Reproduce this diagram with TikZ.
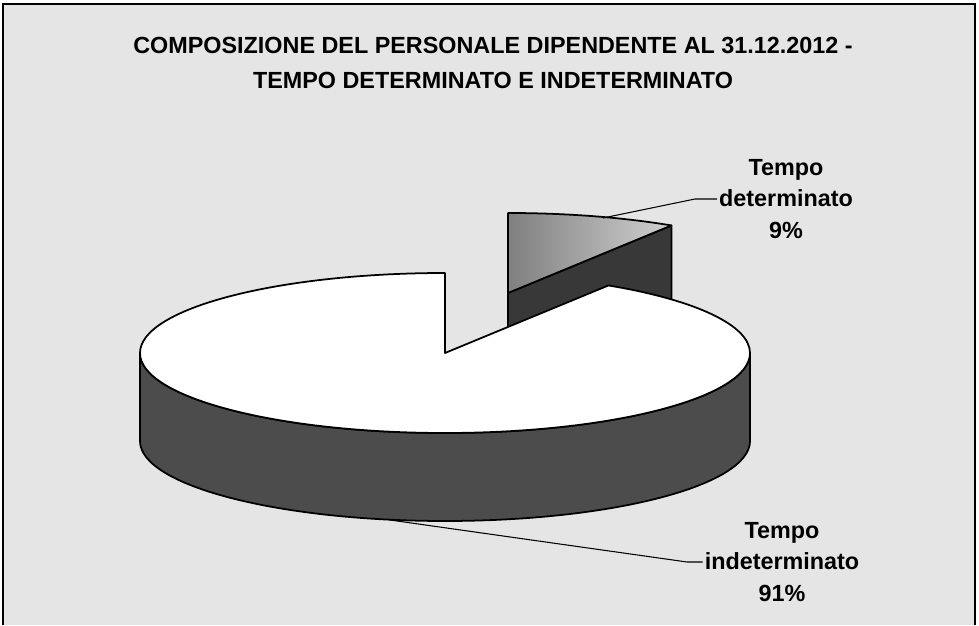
\documentclass[tikz,border=0pt]{standalone}
\usepackage{fontspec}
\setmainfont{Liberation Sans}
\begin{document}
\begin{tikzpicture}[x=0.02cm, y=0.02cm,
	every node/.style={font=\bfseries\fontsize{13.3}{18}\selectfont, align=center, inner sep=1pt},
	rim/.style={draw=black, line width=1pt, line join=round},
	leader/.style={draw=black, line width=0.6pt}]
	\useasboundingbox (0,0) rectangle (979,625);
	\fill[gray!20] (3,0) rectangle (975,621);
	\draw[line width=0.8pt] (3,0) -- (3,621) -- (975,621) -- (975,0);
	\node[font=\bfseries\fontsize{13.3}{19.9}\selectfont] (title) at (493,562)
		{COMPOSIZIONE DEL PERSONALE DIPENDENTE AL 31.12.2012 -\\TEMPO DETERMINATO E INDETERMINATO};
	\coordinate (o) at (445,272);
	\coordinate (c2) at (508,332);
	\coordinate (r2) at (671.4,399.5);
	% small slice, pulled out
	\filldraw[rim, fill=black!78] (c2) -- (r2) -- ++(0,-88) -- ++(-163.4,-67.5) -- cycle;
	\path[rim, left color=black!50, right color=black!18] (c2) -- ++(0,80)
		arc[start angle=90, end angle=57.6, x radius=305, y radius=80] -- cycle;
	% big slice
	\filldraw[rim, fill=black!70] (140,272) arc[start angle=180, end angle=360, x radius=305, y radius=80]
		-- ++(0,-88) arc[start angle=360, end angle=180, x radius=305, y radius=80] -- cycle;
	\filldraw[rim, fill=white] (o) -- ++(0,80)
		arc[start angle=90, end angle=417.6, x radius=305, y radius=80] -- cycle;
	% labels
	\node (lbldet) at (786,426) {Tempo\\determinato\\9\%};
	\node (lblind) at (782,63) {Tempo\\indeterminato\\91\%};
	\coordinate (lead1) at (603,407);
	\coordinate (kink1) at (695,426);
	\coordinate (lead2) at (390,105);
	\coordinate (kink2) at (687,63);
	\draw[leader] (lead1) -- (kink1) -- (kink1 -| lbldet.west);
	\draw[leader] (lead2) -- (kink2) -- (kink2 -| lblind.west);
\end{tikzpicture}
\end{document}
